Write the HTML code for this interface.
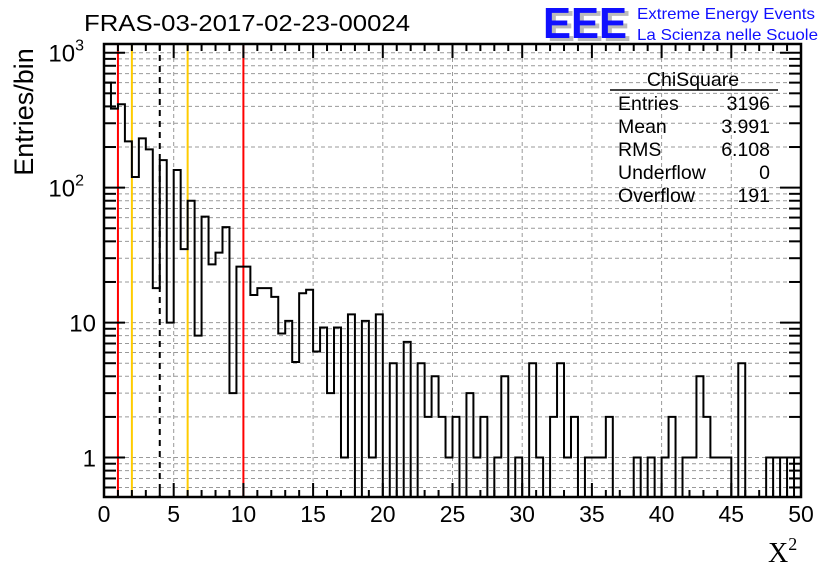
<!DOCTYPE html>
<html><head><meta charset="utf-8"><style>
body{margin:0;background:#fff}
svg{display:block;font-family:"Liberation Sans",Arial,sans-serif}
</style></head><body>
<svg id="chart" width="836" height="572" viewBox="0 0 836 572">
<rect x="0" y="0" width="836" height="572" fill="#fff"/>
<g id="grid"></g>
<g id="vlines"></g>
<path id="hist" fill="none" stroke="#000" stroke-width="2"/>
<g id="axes"></g>
<text x="84" y="31" font-size="23" textLength="326" lengthAdjust="spacingAndGlyphs">FRAS-03-2017-02-23-00024</text>
<text transform="translate(33,112) rotate(-90)" text-anchor="middle" font-size="27">Entries/bin</text>
<text x="768" y="562" font-size="28" font-family="Liberation Serif,serif">X<tspan font-size="18" dy="-12">2</tspan></text>
<g>
<text x="547" y="41" font-size="44" font-weight="bold" fill="#bbb" textLength="84" lengthAdjust="spacingAndGlyphs">EEE</text>
<text x="543" y="38" font-size="44" font-weight="bold" fill="#1010ff" textLength="84" lengthAdjust="spacingAndGlyphs">EEE</text>
<text x="637" y="19" font-size="16" fill="#1010ff" textLength="178" lengthAdjust="spacingAndGlyphs">Extreme Energy Events</text>
<text x="637" y="40" font-size="16" fill="#1010ff" textLength="181" lengthAdjust="spacingAndGlyphs">La Scienza nelle Scuole</text>
</g>
<g font-size="19.5">
<text x="693" y="86" text-anchor="middle">ChiSquare</text>
<line x1="610" y1="90" x2="778" y2="90" stroke="#000" stroke-width="1.5"/>
<text x="618" y="110">Entries</text><text x="770" y="110" text-anchor="end">3196</text>
<text x="618" y="133">Mean</text><text x="770" y="133" text-anchor="end">3.991</text>
<text x="618" y="156">RMS</text><text x="770" y="156" text-anchor="end">6.108</text>
<text x="618" y="179">Underflow</text><text x="770" y="179" text-anchor="end">0</text>
<text x="618" y="202">Overflow</text><text x="770" y="202" text-anchor="end">191</text>
</g>
</svg>
<script>
const binEdgesMin = 0, binWidth = 0.5;
const counts = [600,385,415,220,120,232,192,18,160,10,135,35,80,8,61,27,33,51,3,26,26,16,18,18,15.5,
8.3,10.3,5.1,16.5,17.5,6.1,9.2,3,9.2,1,11.5,0,10.3,1,11.5,0,5,0,7.2,0,5,2,4,2,1,
2,0,3,1,2,0,1,4,0,1,0,5,1,0,2,5,1,2,0,1,1,1,2,0,0,0,1,0,1,0,
1,2,0,1,1,4,2,1,1,1,0,5,0,0,0,1,1,1,1,1];
const xTicks = [0,5,10,15,20,25,30,35,40,45,50];
const yDecades = [1,10,100,1000];
const yDecadeLabels = ["1","10","10²","10³"];
const refLines = [1,2,4,6,10];
const refColors = ["#ff0000","#ffcc00","#000000","#ffcc00","#ff0000"];

const L=104,R=801,T=44,B=497;
const X0=0,X1=50,Ylo=Math.log10(0.51),Yhi=Math.log10(1160);
const sx=v=>L+(v-X0)/(X1-X0)*(R-L);
const sy=v=>B-(Math.log10(v)-Ylo)/(Yhi-Ylo)*(B-T);
const NS="http://www.w3.org/2000/svg";
function mk(tag,attrs,parent){const e=document.createElementNS(NS,tag);for(const k in attrs)e.setAttribute(k,attrs[k]);parent.appendChild(e);return e;}
const grid=document.getElementById('grid'),axes=document.getElementById('axes'),vl=document.getElementById('vlines');
for(const d of yDecades){for(let m=1;m<10;m++){const v=d*m;if(v<0.51||v>1160)continue;
 const ln=mk('line',{x1:L,x2:R,y1:sy(v),y2:sy(v),stroke:'#999','stroke-width':1,'stroke-dasharray':'4,3'},grid);
 
 }}
for(const d of [0.6,0.7,0.8,0.9]){const ln=mk('line',{x1:L,x2:R,y1:sy(d),y2:sy(d),stroke:'#999','stroke-width':1,'stroke-dasharray':'4,3'},grid);
 
 }
for(const t of xTicks){if(t===0||t===50)continue;const ln=mk('line',{x1:sx(t),x2:sx(t),y1:T,y2:B,stroke:'#999','stroke-width':1,'stroke-dasharray':'4,3'},grid);
 
 }
refLines.forEach((v,i)=>{const a={x1:sx(v),x2:sx(v),y1:T,y2:B,stroke:refColors[i],'stroke-width':2};if(refColors[i]==='#000000')a['stroke-dasharray']='6,5';
 const ln=mk('line',a,vl);
 
 });
let d='';
counts.forEach((c,i)=>{const x0=sx(binEdgesMin+i*binWidth),x1=sx(binEdgesMin+(i+1)*binWidth);const y=c>0?Math.max(sy(c),T):B;
 if(i===0)d+=`M${x0},${y}`;else d+=`L${x0},${y}`;d+=`L${x1},${y}`;
 if(i>0&&c>0&&counts[i-1]===c&&i>=95)d+=`M${x0},${y}L${x0},${B}M${x1},${y}`;});
document.getElementById('hist').setAttribute('d',d);
const fr=mk('rect',{x:L,y:T,width:R-L,height:B-T,fill:'none',stroke:'#000','stroke-width':2.5},axes);


for(let v=0;v<=50;v++){const len=v%5===0?14:7;const x=sx(v);
 const a=mk('line',{x1:x,x2:x,y1:B,y2:B-len,stroke:'#000','stroke-width':2},axes);
 
 
 const b=mk('line',{x1:x,x2:x,y1:T,y2:T+len,stroke:'#000','stroke-width':2},axes);
 
 }
xTicks.forEach(t=>{const tx=mk('text',{x:sx(t),y:522,'text-anchor':'middle','font-size':23},axes);tx.textContent=t;
 
 });
const yt=[];for(const dd of [0.1,1,10,100,1000])for(let m=1;m<10;m++){const v=dd*m;if(v>=0.51&&v<=1160)yt.push([v,m===1]);}
yt.forEach(([v,maj])=>{const y=sy(v),len=maj?21:12;
 const a=mk('line',{x1:L,x2:L+len,y1:y,y2:y,stroke:'#000','stroke-width':2},axes);
 
 
 const b=mk('line',{x1:R,x2:R-len,y1:y,y2:y,stroke:'#000','stroke-width':2},axes);
 
 });
yDecades.forEach((v,i)=>{const lab=yDecadeLabels[i];const tx=mk('text',{x:96,y:sy(v)+9,'text-anchor':'end','font-size':24},axes);
 if(lab.length===3){tx.textContent='10';const ts=mk('tspan',{dy:-11,'font-size':16},tx);ts.textContent=lab==='10²'?'2':'3';tx.setAttribute('x',84);}
 else tx.textContent=lab;
 
 });
</script>
</body></html>
